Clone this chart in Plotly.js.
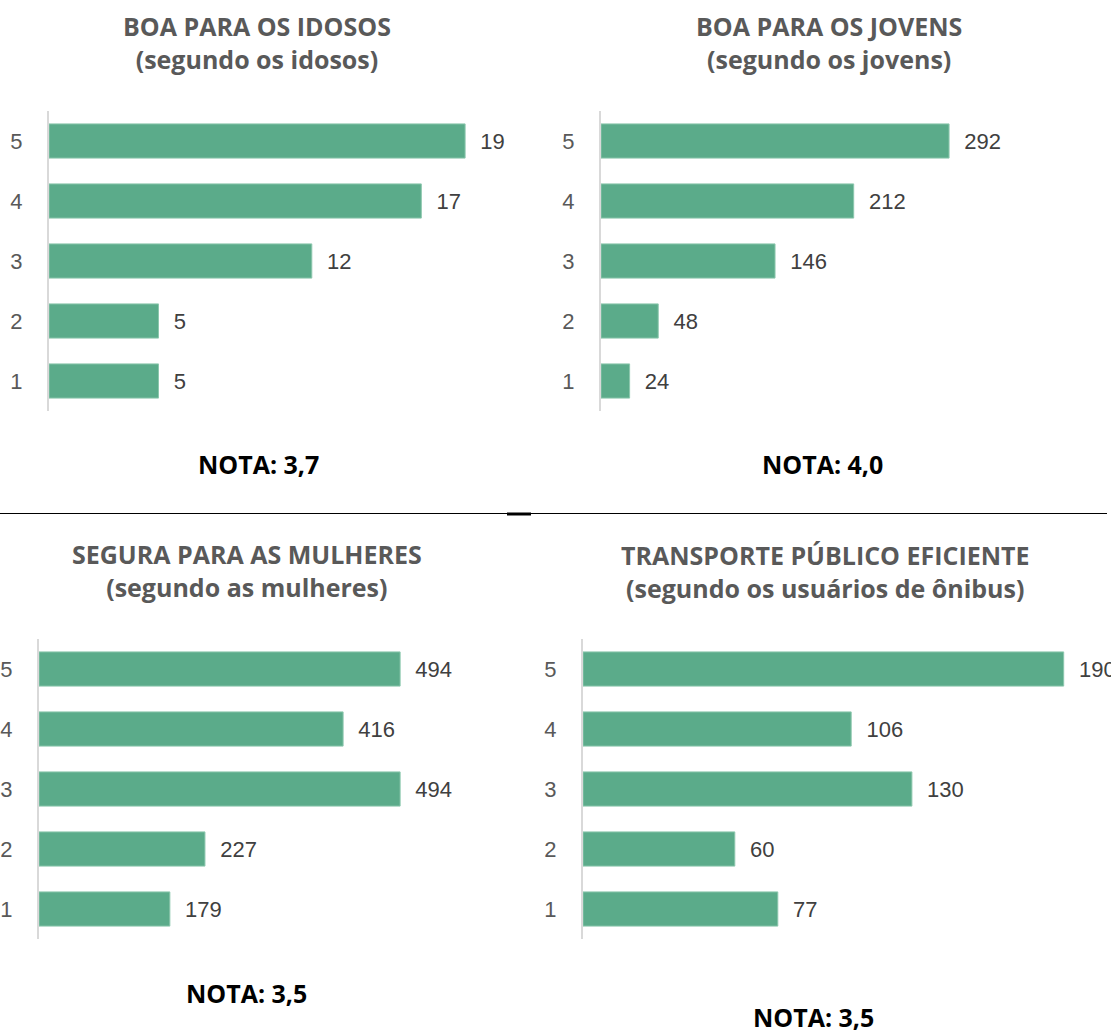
<!DOCTYPE html>
<html>
<head>
<meta charset="utf-8">
<script src="https://cdn.plot.ly/plotly-3.0.1.min.js"></script>
<style>
  html, body { margin: 0; padding: 0; background: #ffffff; }
  #plot { width: 1111px; height: 1033px; }
</style>
</head>
<body>
<div id="plot"></div>
<script>
// Notes 1..5 on the vertical axis
var categories = ['1', '2', '3', '4', '5'];

// Counts per note, listed from note 1 to note 5
var idosos = [5, 5, 12, 17, 19];
var jovens = [24, 48, 146, 212, 292];
var mulheres = [179, 227, 494, 416, 494];
var onibus = [77, 60, 130, 106, 190];

var panelTitles = [
    'BOA PARA OS IDOSOS<br>(segundo os idosos)',
    'BOA PARA OS JOVENS<br>(segundo os jovens)',
    'SEGURA PARA AS MULHERES<br>(segundo as mulheres)',
    'TRANSPORTE PÚBLICO EFICIENTE<br>(segundo os usuários de ônibus)'
];
var notas = ['NOTA: 3,7', 'NOTA: 4,0', 'NOTA: 3,5', 'NOTA: 3,5'];

var W = 1111, H = 1033;
function px(x) { return x / W; }
function py(y) { return 1 - y / H; }

var barColor = '#5bab8a';
var series = [idosos, jovens, mulheres, onibus];

// Build one bar trace per panel
var traces = series.map(function (vals, i) {
    var n = i === 0 ? '' : String(i + 1);
    return {
        type: 'bar',
        orientation: 'h',
        x: vals,
        y: categories,
        xaxis: 'x' + n,
        yaxis: 'y' + n,
        marker: { color: barColor, line: { color: '#8cc7ad', width: 1 } },
        text: vals.map(function (v) { return '\u00a0\u00a0' + v; }),
        textposition: 'outside',
        textfont: { family: 'Liberation Sans, Arial, sans-serif', size: 22, color: '#404040' },
        cliponaxis: false,
        hoverinfo: 'x+y'
    };
});

// Panel geometry in pixels: axis start, axis end, top, bottom, px per unit
var panels = [
    { x0: 49, x1: 530, top: 111, bottom: 411, scale: 21.9 },
    { x0: 601, x1: 1100, top: 111, bottom: 411, scale: 1.192 },
    { x0: 39, x1: 520, top: 639, bottom: 939, scale: 0.731 },
    { x0: 583, x1: 1111, top: 639, bottom: 939, scale: 2.53 }
];

var layout = {
    width: W,
    height: H,
    margin: { l: 0, r: 0, t: 0, b: 0 },
    paper_bgcolor: '#ffffff',
    plot_bgcolor: '#ffffff',
    showlegend: false,
    bargap: 0.43,
    annotations: [],
    shapes: [
        // divider between top and bottom rows
        { type: 'line', xref: 'paper', yref: 'paper', x0: 0, x1: px(1107), y0: py(513.5), y1: py(513.5),
          line: { color: '#000000', width: 1 } },
        { type: 'line', xref: 'paper', yref: 'paper', x0: px(507), x1: px(531), y0: py(514), y1: py(514),
          line: { color: '#000000', width: 3 } }
    ]
};

panels.forEach(function (p, i) {
    var n = i === 0 ? '' : String(i + 1);
    layout['xaxis' + n] = {
        domain: [px(p.x0), px(p.x1)],
        range: [0, (p.x1 - p.x0) / p.scale],
        anchor: 'y' + n,
        visible: false,
        fixedrange: true
    };
    layout['yaxis' + n] = {
        domain: [py(p.bottom), py(p.top)],
        anchor: 'x' + n,
        type: 'category',
        range: [-0.5, 4.5],
        showline: true,
        linecolor: '#d9d9d9',
        linewidth: 2,
        showgrid: false,
        zeroline: false,
        ticks: '',
        ticklabelstandoff: 20,
        tickfont: { family: 'Liberation Sans, Arial, sans-serif', size: 22, color: '#595959' },
        fixedrange: true
    };
});

// Panel titles and scores
var titlePos = [[257, 43], [829, 43], [247, 570], [825, 571]];
var notaPos = [[258, 464], [822, 464], [246, 993], [813, 1017]];
titlePos.forEach(function (t, i) {
    layout.annotations.push({
        xref: 'paper', yref: 'paper', x: px(t[0]), y: py(t[1]),
        xanchor: 'center', yanchor: 'middle', showarrow: false,
        text: '<b>' + panelTitles[i] + '</b>',
        font: { family: 'Open Sans, Lato, sans-serif', size: 25, color: '#595959' }
    });
});
notaPos.forEach(function (t, i) {
    layout.annotations.push({
        xref: 'paper', yref: 'paper', x: px(t[0]), y: py(t[1]),
        xanchor: 'center', yanchor: 'middle', showarrow: false,
        text: '<b>' + notas[i] + '</b>',
        font: { family: 'Open Sans, Lato, sans-serif', size: 25, color: '#000000' }
    });
});

var config = { staticPlot: true };
var plotElement = document.getElementById('plot');
if (plotElement) {
    Plotly.newPlot('plot', traces, layout, config);
} else {
    console.error("No DOM element with id 'plot' exists on the page.");
}
</script>
</body>
</html>
